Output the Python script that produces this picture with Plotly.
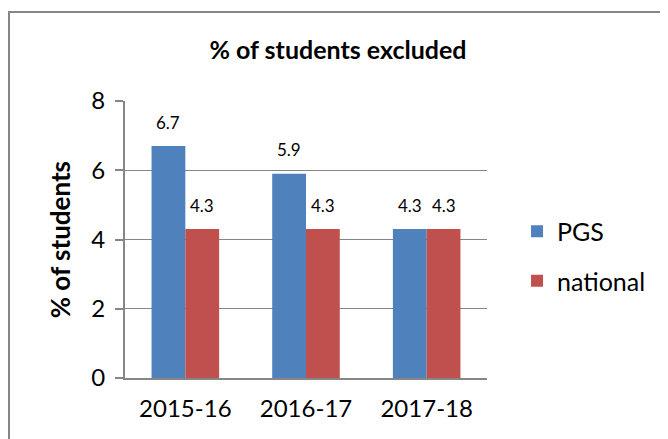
import plotly.graph_objects as go

years = ["2015-16", "2016-17", "2017-18"]
pgs = [6.7, 5.9, 4.3]
national = [4.3, 4.3, 4.3]

FONT = "Lato, Calibri, sans-serif"
GREY = "#868686"
BLUE = "#4F81BD"
RED = "#C0504D"

fig = go.Figure()
fig.add_trace(go.Bar(name="PGS", x=years, y=pgs, marker_color=BLUE, legendgroup="a"))
fig.add_trace(
    go.Bar(name="national", x=years, y=national, marker_color=RED, legendgroup="b")
)
fig.update_traces(marker_line_width=0)

# data labels sit well above the bars, like the Excel original
labels = []
for series, shift in [(pgs, -17), (national, 17)]:
    for yr, v in zip(years, series):
        labels.append(
            dict(
                x=yr,
                y=v,
                xref="x",
                yref="y",
                text=f"{v:.1f}",
                showarrow=False,
                xshift=shift,
                yshift=24,
                yanchor="middle",
                font=dict(size=17, color="black", family=FONT),
            )
        )

fig.update_xaxes(
    showline=True,
    linecolor=GREY,
    linewidth=2,
    ticks="",
    ticklabelstandoff=8,
    tickfont=dict(size=24, color="black", family=FONT),
    showgrid=False,
)
fig.update_yaxes(
    range=[0, 8],
    dtick=2,
    showline=True,
    linecolor=GREY,
    linewidth=2,
    ticks="outside",
    ticklen=8,
    tickcolor=GREY,
    tickwidth=1.5,
    ticklabelstandoff=5,
    tickfont=dict(size=24, color="black", family=FONT),
    showgrid=True,
    gridcolor=GREY,
    gridwidth=1.2,
    zeroline=False,
)

fig.update_layout(
    width=660,
    height=431,
    margin=dict(l=117, r=181, t=93, b=61),
    plot_bgcolor="white",
    paper_bgcolor="white",
    barmode="group",
    bargap=0.44,
    bargroupgap=0.0,
    showlegend=True,
    legend=dict(
        x=1.083,
        y=0.44,
        yanchor="middle",
        xanchor="left",
        font=dict(size=25, color="black", family=FONT),
        traceorder="grouped",
        tracegroupgap=14,
        itemwidth=30,
    ),
    title=dict(
        text="<b>% of students excluded</b>",
        x=0.5,
        xref="container",
        xanchor="center",
        y=0.9026,
        yref="container",
        yanchor="middle",
        font=dict(size=25, color="black", family=FONT),
    ),
    annotations=labels
    + [
        dict(
            text="<b>% of students</b>",
            x=-0.18,
            y=0.5,
            xref="paper",
            yref="paper",
            xanchor="center",
            yanchor="middle",
            textangle=-90,
            showarrow=False,
            font=dict(size=26, color="black", family=FONT),
        )
    ],
    shapes=[
        dict(
            type="rect",
            xref="paper",
            yref="paper",
            x0=-0.3204,
            x1=1.6,
            y0=-0.4,
            y1=1.3213,
            line=dict(color=GREY, width=2),
            layer="below",
        )
    ],
)

fig.write_html("out.html")
